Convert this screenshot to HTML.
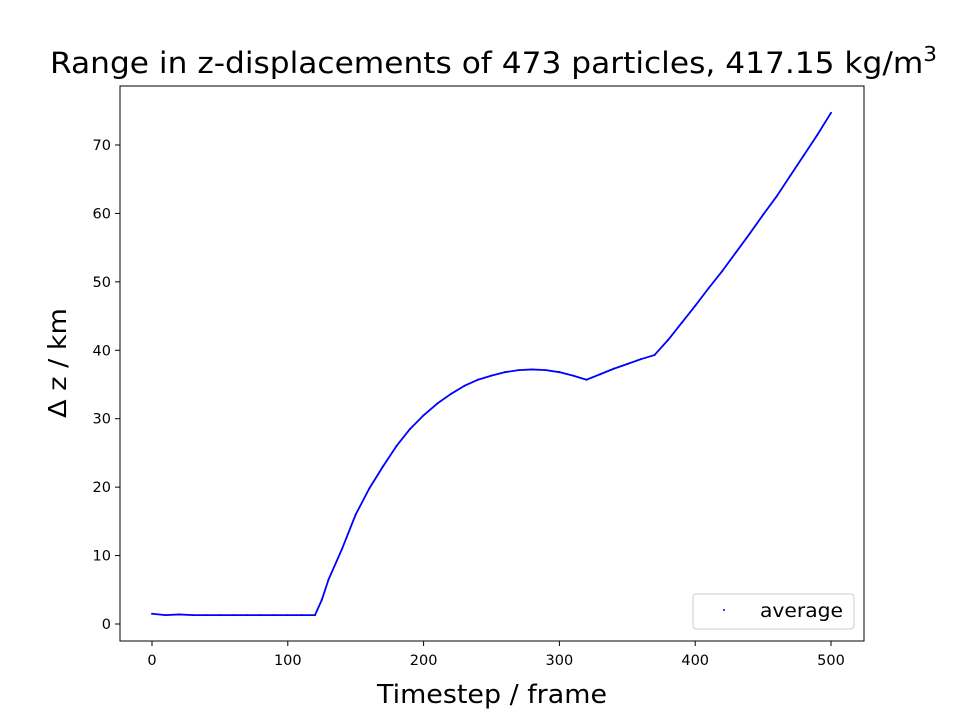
<!DOCTYPE html>
<html><head><meta charset="utf-8">
<style>
html,body{margin:0;padding:0;background:#fff;}
svg text{font-family:"DejaVu Sans","Liberation Sans",sans-serif;fill:#000;}
</style></head>
<body>
<svg id="chart" width="960" height="720" viewBox="0 0 960 720" xmlns="http://www.w3.org/2000/svg">
<rect width="960" height="720" fill="#fff"/>
<text x="50" y="73" font-size="29" textLength="887" lengthAdjust="spacingAndGlyphs">Range in z-displacements of 473 particles, 417.15 kg/m<tspan dy="-12" font-size="20">3</tspan></text>
<g id="plot"></g>
<text x="377" y="703" font-size="26" textLength="230" lengthAdjust="spacingAndGlyphs">Timestep / frame</text>
<text transform="translate(66,418) rotate(-90)" font-size="25" textLength="110" lengthAdjust="spacingAndGlyphs">Δ z / km</text>
<rect x="120" y="86" width="744" height="555" fill="none" stroke="#000" stroke-width="1"/>
<g>
<rect x="693" y="594" width="161" height="35" rx="3" fill="#fff" stroke="#ccc"/>
<circle cx="724" cy="610" r="1" fill="#0000ff"/>
<text x="760" y="617" font-size="19" textLength="83" lengthAdjust="spacingAndGlyphs">average</text>
</g>
</svg>
<script>
const frames=[0,10,20,30,40,50,60,70,80,90,100,110,120,125,130,140,150,160,170,180,190,200,210,220,230,240,250,260,270,280,290,300,310,320,330,340,350,360,370,380,390,400,410,420,430,440,450,460,470,480,490,500];
const dz=[1.5,1.3,1.4,1.3,1.3,1.3,1.3,1.3,1.3,1.3,1.3,1.3,1.3,3.5,6.5,11,16,19.8,23,26,28.5,30.5,32.2,33.6,34.8,35.7,36.3,36.8,37.1,37.2,37.1,36.8,36.3,35.7,36.5,37.3,38,38.7,39.3,41.5,44,46.5,49.1,51.6,54.3,57,59.8,62.5,65.5,68.5,71.5,74.7];
const xTicks=[0,100,200,300,400,500];
const yTicks=[0,10,20,30,40,50,60,70];
const NS="http://www.w3.org/2000/svg";
const xs=v=>152+v*(831-152)/500;
const ys=v=>624-v*6.843;
const g=document.getElementById('plot');
function mk(t,a){const e=document.createElementNS(NS,t);for(const k in a)e.setAttribute(k,a[k]);g.appendChild(e);return e;}
xTicks.forEach(t=>{
  const l=mk('line',{x1:xs(t),x2:xs(t),y1:641,y2:646,stroke:'#000'});
  
  
  const tx=mk('text',{x:xs(t),y:665,'font-size':14.5,'text-anchor':'middle'});tx.textContent=t;
  
  
});
yTicks.forEach(t=>{
  const l=mk('line',{x1:115,x2:120,y1:ys(t),y2:ys(t),stroke:'#000'});
  
  
  const tx=mk('text',{x:111,y:ys(t)+5,'font-size':14.5,'text-anchor':'end'});tx.textContent=t;
  
  
});
const pts=frames.map((f,i)=>xs(f)+','+ys(dz[i])).join(' ');
const pl=mk('polyline',{points:pts,fill:'none',stroke:'#0000ff','stroke-width':1.8,'stroke-linejoin':'round'});


frames.forEach((f,i)=>{
  const c=mk('circle',{cx:xs(f),cy:ys(dz[i]),r:1,fill:'#0000ff'});
  
  
});
</script>
</body></html>
